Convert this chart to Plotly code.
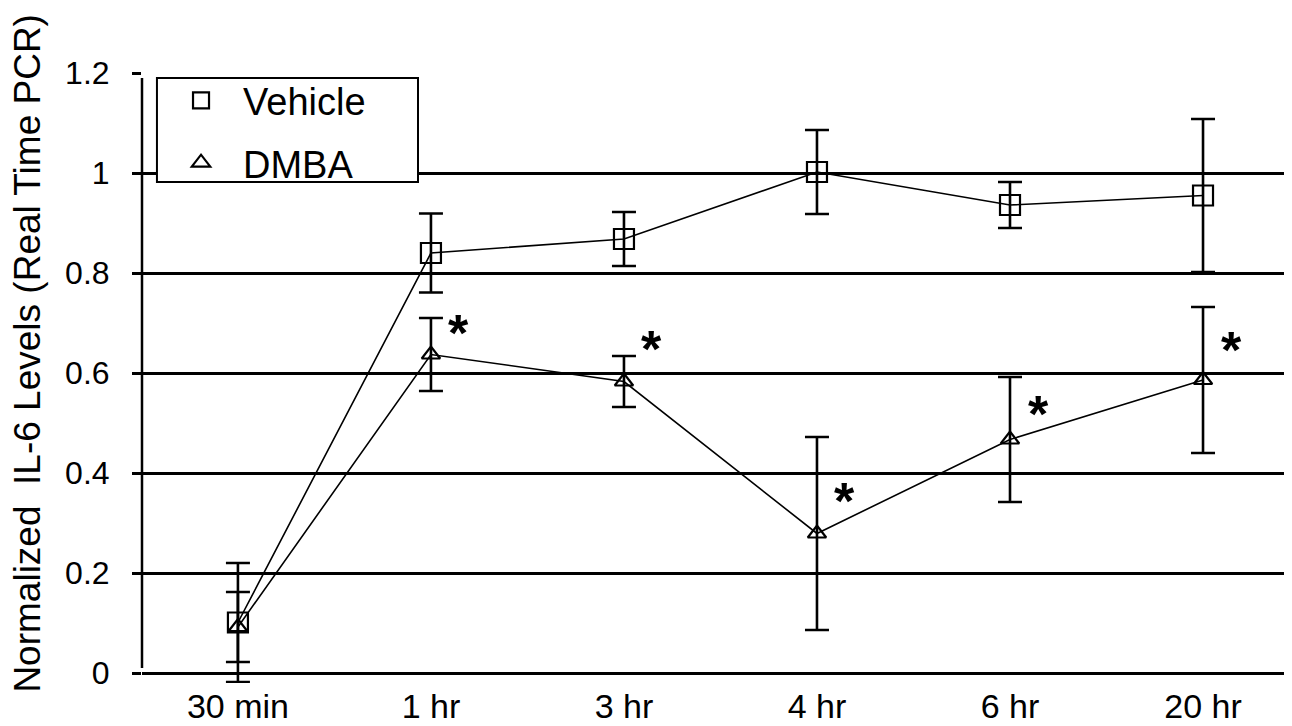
import plotly.graph_objects as go

# ---- data ----
categories = ["30 min", "1 hr", "3 hr", "4 hr", "6 hr", "20 hr"]
vehicle_mean = [0.101, 0.84, 0.868, 1.002, 0.936, 0.955]
vehicle_err = [0.119, 0.079, 0.054, 0.084, 0.046, 0.153]
dmba_mean = [0.092, 0.637, 0.583, 0.279, 0.467, 0.586]
dmba_err = [0.070, 0.073, 0.051, 0.193, 0.125, 0.146]
star_categories = ["1 hr", "3 hr", "4 hr", "6 hr", "20 hr"]
star_y = [0.696, 0.664, 0.36, 0.534, 0.662]
y_ticks = [0, 0.2, 0.4, 0.6, 0.8, 1.0, 1.2]
y_ticktext = ["0", "0.2", "0.4", "0.6", "0.8", "1", "1.2"]

FONT = "Liberation Sans, Arial, sans-serif"

fig = go.Figure()

# connecting lines (no legend)
for name, ys in [("Vehicle", vehicle_mean), ("DMBA", dmba_mean)]:
    fig.add_trace(go.Scatter(
        x=categories, y=ys, mode="lines",
        line=dict(color="black", width=1.6),
        showlegend=False, hoverinfo="skip", name=name,
    ))

# markers with error bars (legend entries)
fig.add_trace(go.Scatter(
    x=categories, y=vehicle_mean, mode="markers", name="Vehicle",
    legendgroup="v",
    marker=dict(symbol="square-open", size=20, color="black",
                line=dict(width=2.2, color="black")),
    error_y=dict(type="data", array=vehicle_err, visible=True,
                 color="black", thickness=2.6, width=12),
))
fig.add_trace(go.Scatter(
    x=categories, y=dmba_mean, mode="markers", name="DMBA",
    legendgroup="d",
    marker=dict(symbol="triangle-up-open", size=16, color="black",
                line=dict(width=2.2, color="black")),
    error_y=dict(type="data", array=dmba_err, visible=True,
                 color="black", thickness=2.6, width=12),
))

annotations = []
for c, yv in zip(star_categories, star_y):
    annotations.append(dict(
        x=c, y=yv, xref="x", yref="y", text="<b>*</b>", showarrow=False,
        xshift=28, yshift=-8, font=dict(family=FONT, size=52, color="black"),
    ))

annotations.append(dict(
    text="Normalized\u00a0 IL-6 Levels (Real Time PCR)",
    xref="paper", yref="paper", x=0, y=0.54, xshift=-114,
    xanchor="center", yanchor="middle",
    textangle=-90, showarrow=False,
    font=dict(family=FONT, size=37, color="black"),
))

# legend frame (white box with black border)
legend_frame = dict(type="rect", xref="paper", yref="paper",
                    x0=0.013, x1=0.240, y0=0.8213, y1=0.9918,
                    fillcolor="white", line=dict(color="black", width=2),
                    layer="above")
y_axis_line = dict(type="line", xref="paper", x0=0, x1=0, yref="y",
                   y0=0.01, y1=1.19, line=dict(color="black", width=2.5))

fig.update_layout(
    width=1284, height=718,
    margin=dict(l=134, r=0, t=65, b=43),
    paper_bgcolor="white", plot_bgcolor="white",
    font=dict(family=FONT, color="black"),
    showlegend=True,
    legend=dict(
        x=0.0148, y=1.0064, xanchor="left", yanchor="top",
        bgcolor="rgba(0,0,0,0)", borderwidth=0,
        font=dict(family=FONT, size=38, color="black"),
        traceorder="grouped", tracegroupgap=10,
        itemwidth=74,
    ),
    annotations=annotations,
    shapes=[y_axis_line, legend_frame],
)

fig.update_xaxes(
    type="category", range=[-0.497, 5.461], automargin=False,
    showgrid=False, showline=False, zeroline=False, ticks="",
    tickfont=dict(family=FONT, size=34, color="black"),
)
fig.update_yaxes(
    range=[-0.02, 1.2], tickvals=y_ticks, ticktext=y_ticktext, automargin=False,
    showgrid=True, gridcolor="black", gridwidth=2.5,
    zeroline=False, showline=False,
    ticks="outside", ticklen=9, tickwidth=2.5, tickcolor="black",
    ticklabelstandoff=16,
    tickfont=dict(family=FONT, size=32, color="black"),
)

fig.write_html("out.html")
